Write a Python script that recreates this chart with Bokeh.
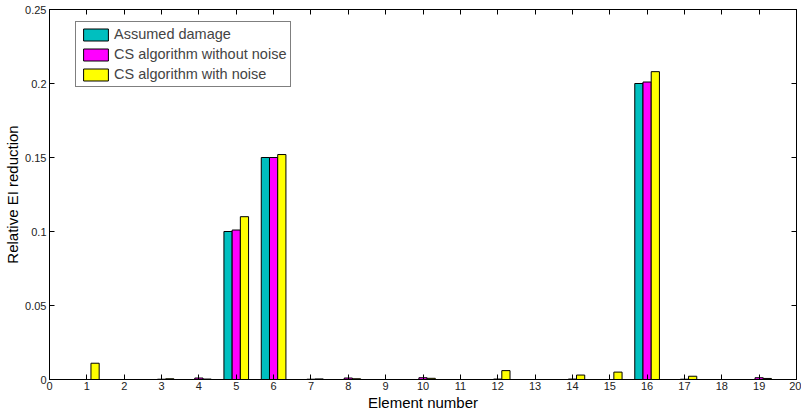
from bokeh.plotting import figure
from bokeh.models import (ColumnDataSource, LinearAxis, FixedTicker, Legend, LegendItem,
                          Range1d, CustomLabelingPolicy)
from bokeh.transform import dodge
from bokeh.embed import file_html
from bokeh.resources import INLINE

elements = list(range(1, 20))
assumed = [0, 0, 0, 0, 0.100, 0.150, 0, 0, 0, 0, 0, 0, 0, 0, 0, 0.200, 0, 0, 0]
cs_no_noise = [0, 0, 0.0002, 0.0010, 0.101, 0.150, 0.0002, 0.0010, 0, 0.0012, 0, 0.0003, 0, 0.0003, 0, 0.201, 0.0002, 0, 0.0012]
cs_noise = [0.011, 0, 0.0005, 0.0003, 0.110, 0.152, 0.0004, 0.0005, 0, 0.0008, 0, 0.0060, 0, 0.0030, 0.0050, 0.208, 0.0022, 0, 0.0007]
series_names = ["Assumed damage", "CS algorithm without noise", "CS algorithm with noise"]
series_colors = ["#00BFBF", "#FF00FF", "#FFFF00"]
x_ticks = list(range(0, 21))
y_ticks = [0, 0.05, 0.1, 0.15, 0.2, 0.25]
y_tick_labels = ["0", "0.05", "0.1", "0.15", "0.2", "0.25"]

src = ColumnDataSource(dict(x=elements, a=assumed, b=cs_no_noise, c=cs_noise))

FONT = "Liberation Sans"

p = figure(width=801, height=415, output_backend="svg", toolbar_location=None,
           x_range=Range1d(0, 20), y_range=Range1d(0, 0.25),
           min_border_left=49, min_border_right=4, min_border_top=9, min_border_bottom=36)
p.grid.visible = False
p.outline_line_color = "black"
p.outline_line_width = 1
p.background_fill_color = "white"
p.border_fill_color = "white"

bw = 0.22
r1 = p.vbar(x=dodge("x", -bw, range=p.x_range), top="a", width=bw, source=src,
            fill_color=series_colors[0], line_color="black", line_width=1)
r2 = p.vbar(x=dodge("x", 0, range=p.x_range), top="b", width=bw, source=src,
            fill_color=series_colors[1], line_color="black", line_width=1)
r3 = p.vbar(x=dodge("x", bw, range=p.x_range), top="c", width=bw, source=src,
            fill_color=series_colors[2], line_color="black", line_width=1)

xa = p.xaxis[0]
ya = p.yaxis[0]
xa.ticker = FixedTicker(ticks=x_ticks)
ya.ticker = FixedTicker(ticks=y_ticks)
ya.major_label_overrides = {t: l for t, l in zip(y_ticks, y_tick_labels)}
for ax in (xa, ya):
    ax.major_tick_in = 5
    ax.major_tick_out = 0
    ax.minor_tick_in = 0
    ax.minor_tick_out = 0
    ax.axis_line_color = "black"
    ax.major_tick_line_color = "black"
    ax.major_label_text_font = FONT
    ax.major_label_text_font_size = "11px"
    ax.major_label_text_color = "#222222"
    ax.axis_label_text_font = FONT
    ax.axis_label_text_font_size = "15px"
    ax.axis_label_text_font_style = "normal"
    ax.axis_label_text_color = "black"
xa.axis_label = "Element number"
ya.axis_label = "Relative EI reduction"
xa.major_label_standoff = 2
ya.major_label_standoff = 3
xa.axis_label_standoff = 1
ya.axis_label_standoff = 1

# mirrored tick marks on top and right (MATLAB box style), no labels drawn
top = LinearAxis(ticker=FixedTicker(ticks=x_ticks), major_tick_in=5, major_tick_out=0,
                 minor_tick_in=0, minor_tick_out=0, major_label_standoff=0,
                 major_label_text_font_size="1px",
                 major_label_policy=CustomLabelingPolicy(code="return new indices.constructor(indices.size);"),
                 axis_line_color="black")
right = LinearAxis(ticker=FixedTicker(ticks=y_ticks), major_tick_in=5, major_tick_out=0,
                   minor_tick_in=0, minor_tick_out=0, major_label_standoff=0,
                   major_label_text_font_size="1px",
                   major_label_policy=CustomLabelingPolicy(code="return new indices.constructor(indices.size);"),
                   axis_line_color="black")
p.add_layout(top, "above")
p.add_layout(right, "right")

legend = Legend(items=[LegendItem(label=series_names[0], renderers=[r1]),
                       LegendItem(label=series_names[1], renderers=[r2]),
                       LegendItem(label=series_names[2], renderers=[r3])],
                location=(26, 292))
legend.border_line_color = "black"
legend.border_line_width = 1
legend.background_fill_alpha = 1
legend.label_text_font = FONT
legend.label_text_font_size = "14.5px"
legend.glyph_width = 31
legend.glyph_height = 15
legend.label_height = 15
legend.spacing = 4
legend.padding = 4
legend.margin = 0
legend.label_standoff = 3
p.add_layout(legend, "center")

open("out.html", "w").write(file_html(p, INLINE))
